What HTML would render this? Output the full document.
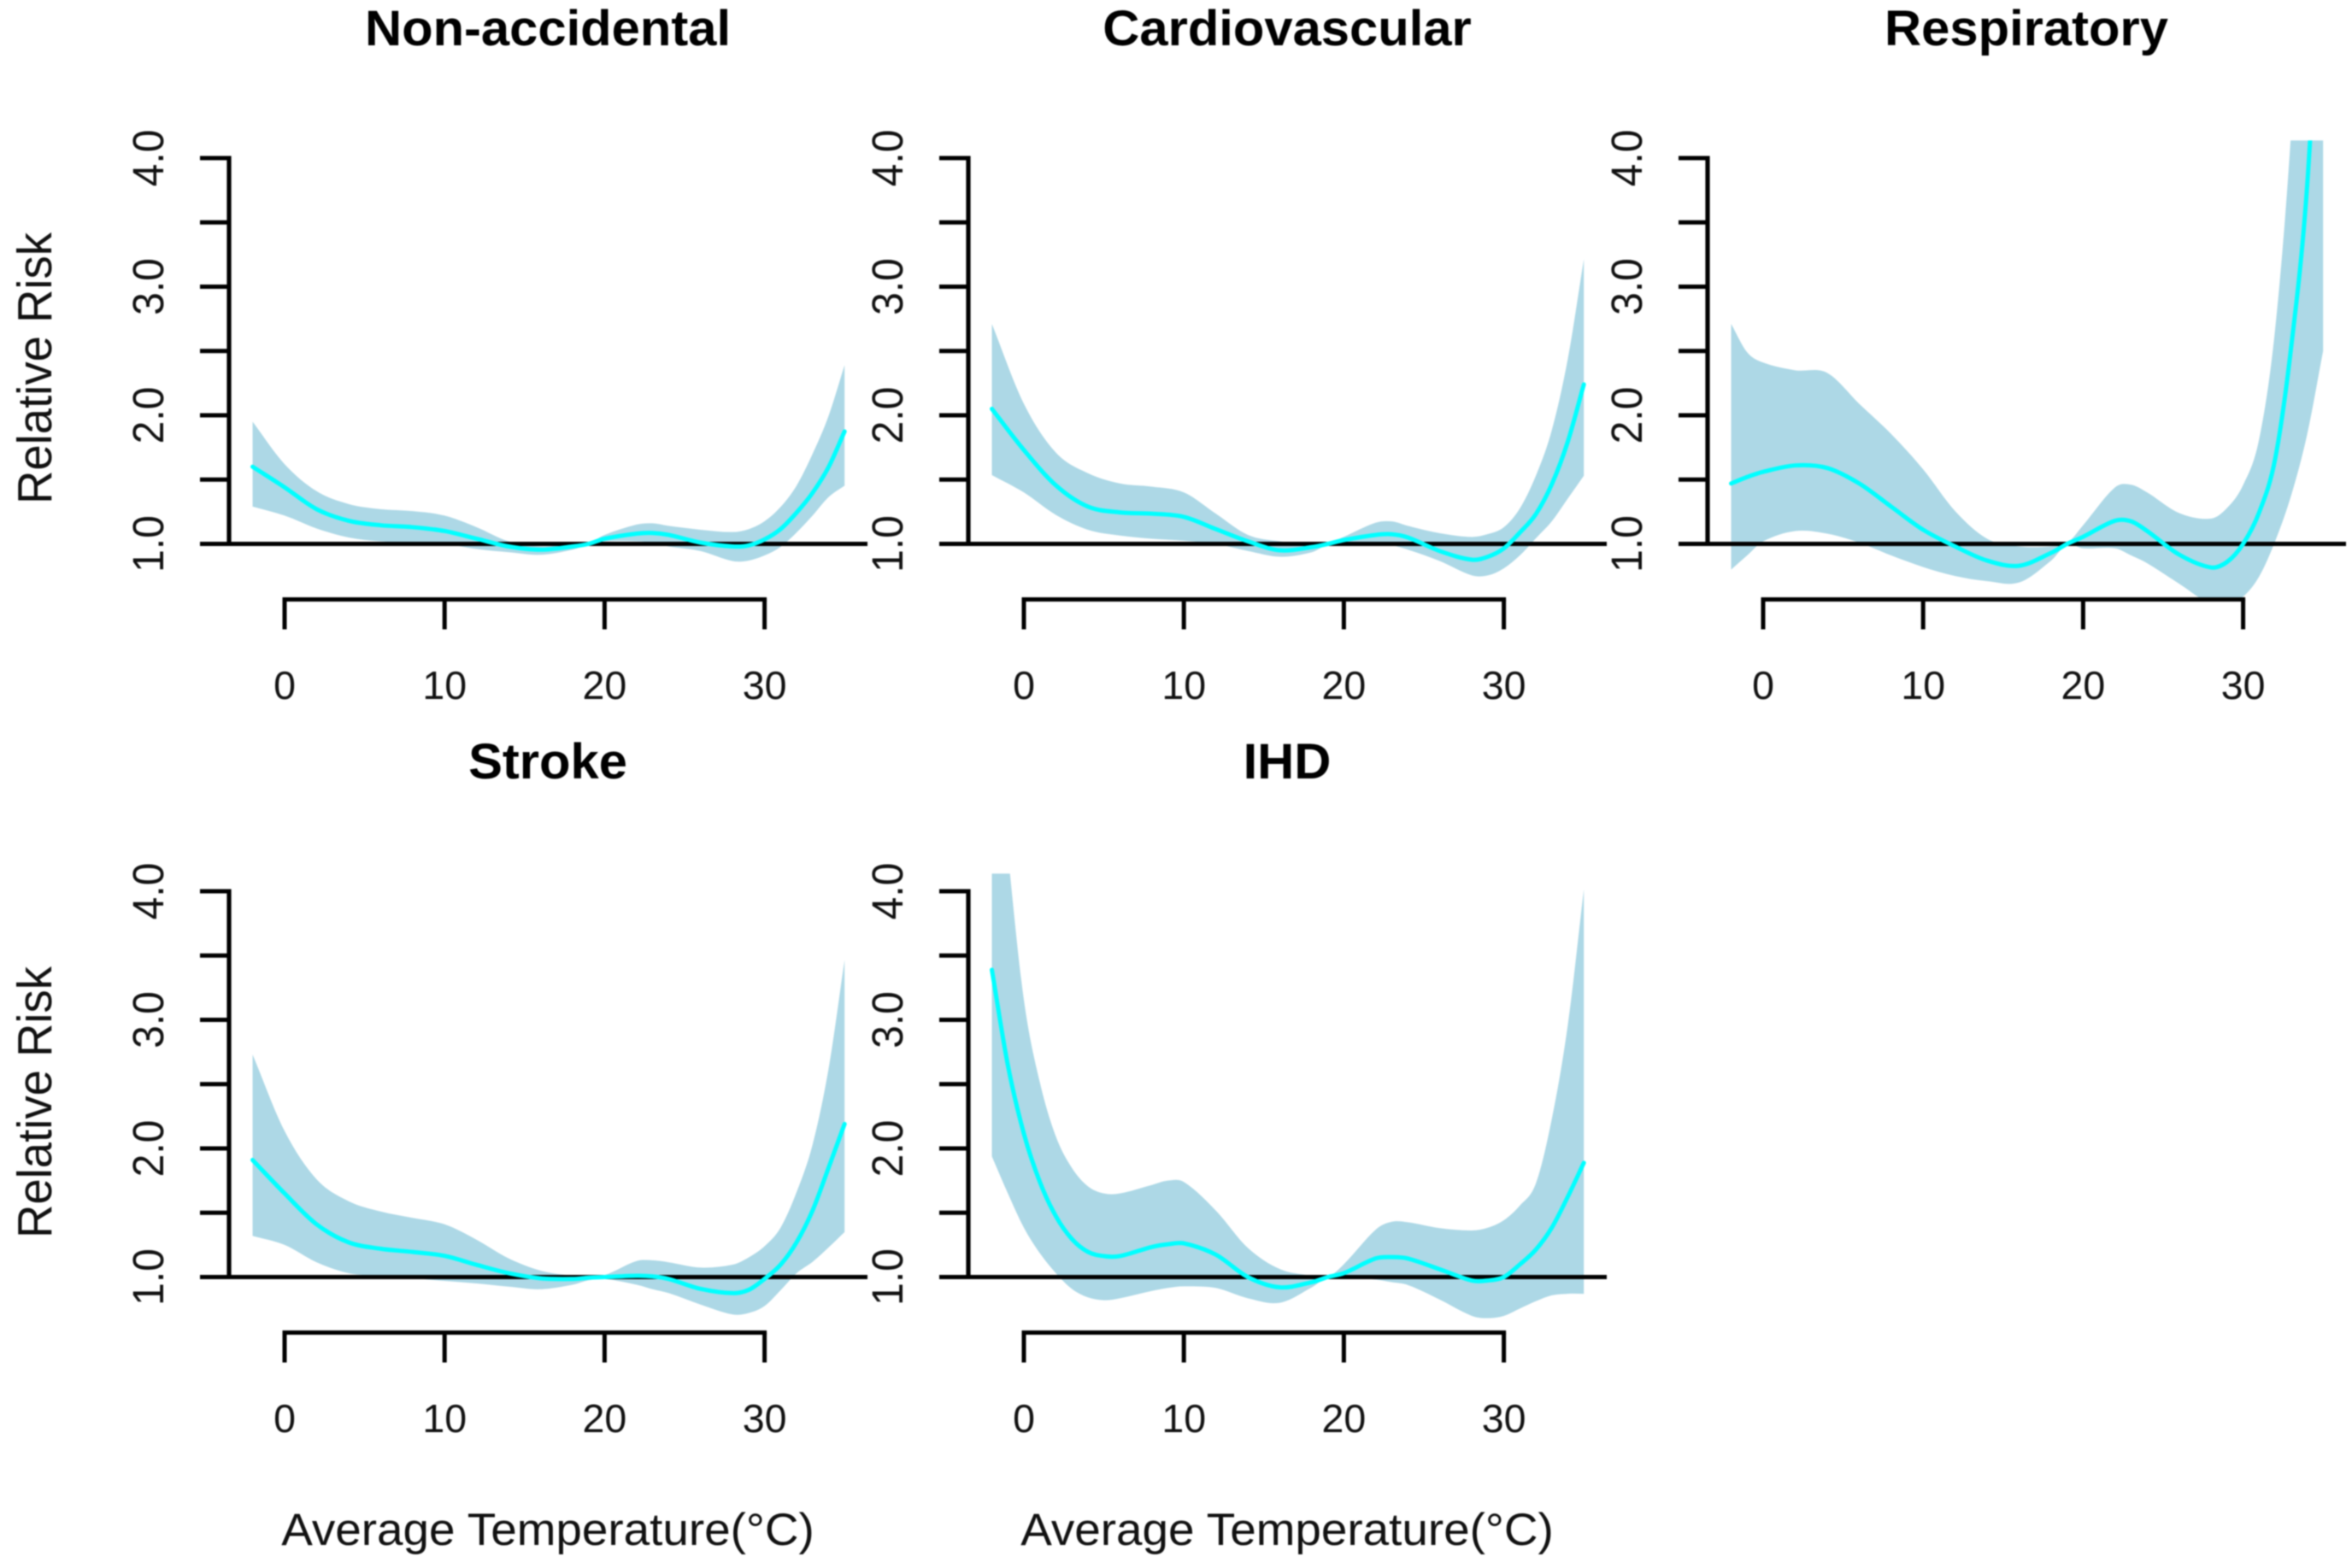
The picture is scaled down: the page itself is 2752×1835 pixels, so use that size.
<!DOCTYPE html>
<html lang="en">
<head>
<meta charset="utf-8">
<title>Relative risk by average temperature</title>
<style>
html,body{margin:0;padding:0;background:#fff;width:2752px;height:1835px;overflow:hidden}
svg{display:block;font-family:"Liberation Sans",Arial,sans-serif;filter:blur(0.7px)}
</style>
</head>
<body>
<svg id="chart" xmlns="http://www.w3.org/2000/svg" width="2752" height="1835" viewBox="0 0 2752 1835">
<rect x="0" y="0" width="2752" height="1835" fill="#ffffff"/>
<text transform="translate(641,53) scale(1.03,1)" text-anchor="middle" font-size="58" font-weight="bold" fill="#000">Non-accidental</text>
<text transform="translate(1506,53) scale(1.03,1)" text-anchor="middle" font-size="58" font-weight="bold" fill="#000">Cardiovascular</text>
<text transform="translate(2371,53) scale(1.03,1)" text-anchor="middle" font-size="58" font-weight="bold" fill="#000">Respiratory</text>
<text transform="translate(641,911) scale(1.03,1)" text-anchor="middle" font-size="58" font-weight="bold" fill="#000">Stroke</text>
<text transform="translate(1506,911) scale(1.03,1)" text-anchor="middle" font-size="58" font-weight="bold" fill="#000">IHD</text>
<text transform="translate(60,431) rotate(-90) scale(1,1.03)" text-anchor="middle" font-size="54.5" fill="#111">Relative Risk</text>
<text transform="translate(60,1290) rotate(-90) scale(1,1.03)" text-anchor="middle" font-size="54.5" fill="#111">Relative Risk</text>
<text transform="translate(641,1808) scale(1.035,1)" text-anchor="middle" font-size="53" fill="#111">Average Temperature(°C)</text>
<text transform="translate(1506,1808) scale(1.035,1)" text-anchor="middle" font-size="53" fill="#111">Average Temperature(°C)</text>
</svg>
<script>
const xTickValues = [0, 10, 20, 30];
const yTickValues = [1, 1.5, 2, 2.5, 3, 3.5, 4];
const yTickLabels = ["1.0", "", "2.0", "", "3.0", "", "4.0"];

const commonTemps = [-2,0,2,4,6,8,10,12,14,16,18,19,20,22,23,24,26,28,29,30,31,32,33,34,35];
const respiratoryTemps = [-2,-1,0,2,4,6,8,10,12,14,16,18,19,20,22,23,24,26,28,29,30,31,32,33,34,35];
const ihdTemps = [-2,-1,0,1,2,3,4,5,6,8,9,10,12,14,16,18,19,20,22,23,24,26,28,29,30,31,32,33,34,35];

const nonAccidentalMean = [1.60,1.44,1.27,1.18,1.145,1.13,1.10,1.04,0.98,0.955,0.98,1.0,1.04,1.08,1.085,1.07,1.01,0.98,0.988,1.035,1.115,1.243,1.397,1.597,1.874];
const nonAccidentalUpper = [1.95,1.62,1.41,1.31,1.27,1.255,1.22,1.13,1.02,0.98,1.0,1.005,1.07,1.15,1.16,1.14,1.11,1.092,1.114,1.176,1.287,1.453,1.70,1.995,2.39];
const nonAccidentalLower = [1.29,1.22,1.12,1.05,1.02,1.01,1.0,0.96,0.935,0.915,0.955,0.995,1.02,1.02,1.01,0.98,0.944,0.866,0.87,0.91,0.977,1.088,1.22,1.364,1.453];

const cardiovascularMean = [2.05,1.73,1.455,1.29,1.245,1.235,1.21,1.115,1.02,0.95,0.975,1.0,1.03,1.07,1.075,1.05,0.944,0.877,0.90,0.965,1.088,1.231,1.464,1.796,2.24];
const cardiovascularUpper = [2.71,2.09,1.71,1.55,1.47,1.445,1.40,1.235,1.07,1.02,1.0,1.005,1.055,1.165,1.175,1.14,1.083,1.054,1.076,1.13,1.276,1.53,1.885,2.44,3.214];
const cardiovascularLower = [1.535,1.40,1.225,1.11,1.065,1.04,1.025,1.0,0.945,0.90,0.935,0.995,1.0,1.01,0.99,0.955,0.866,0.755,0.755,0.81,0.91,1.043,1.176,1.353,1.53];

const respiratoryMean = [1.47,1.52,1.56,1.61,1.59,1.47,1.29,1.11,0.98,0.87,0.83,0.93,1.0,1.055,1.18,1.175,1.10,0.917,0.817,0.86,1.0,1.244,1.66,2.526,3.78,6.0];
const respiratoryUpper = [2.71,2.49,2.41,2.35,2.33,2.09,1.855,1.58,1.255,1.04,0.98,0.98,1.005,1.145,1.44,1.46,1.40,1.24,1.197,1.28,1.458,1.814,2.668,4.2,6.5,9.0];
const respiratoryLower = [0.80,0.91,1.02,1.10,1.08,1.01,0.91,0.82,0.75,0.71,0.70,0.87,0.995,0.965,0.965,0.91,0.85,0.69,0.53,0.53,0.59,0.746,1.02,1.375,1.85,2.5];

const strokeMean = [1.91,1.65,1.41,1.27,1.22,1.195,1.165,1.095,1.03,0.99,0.985,0.995,1.0,1.01,1.005,0.985,0.908,0.875,0.90,0.986,1.096,1.27,1.517,1.85,2.19];
const strokeUpper = [2.73,2.135,1.76,1.59,1.51,1.46,1.41,1.29,1.145,1.05,1.01,1.005,1.015,1.125,1.13,1.115,1.074,1.096,1.152,1.24,1.384,1.66,2.03,2.62,3.466];
const strokeLower = [1.32,1.25,1.115,1.03,1.01,0.99,0.97,0.95,0.925,0.905,0.94,0.975,0.985,0.94,0.905,0.875,0.786,0.709,0.72,0.775,0.897,1.03,1.118,1.23,1.35];

const ihdMean = [3.389,2.647,2.115,1.739,1.473,1.296,1.196,1.163,1.163,1.234,1.255,1.262,1.174,1.0,0.92,0.96,1.0,1.03,1.145,1.155,1.144,1.06,0.973,0.973,1.0,1.098,1.213,1.384,1.625,1.888];
const ihdUpper = [5.6,4.3,3.156,2.514,2.093,1.849,1.706,1.65,1.65,1.716,1.75,1.739,1.517,1.227,1.062,1.01,1.0,1.10,1.37,1.43,1.426,1.38,1.362,1.384,1.442,1.556,1.728,2.231,2.963,4.016];
const ihdLower = [1.938,1.65,1.384,1.185,1.03,0.908,0.842,0.82,0.835,0.892,0.915,0.928,0.915,0.835,0.80,0.92,1.0,1.0,0.98,0.96,0.938,0.824,0.698,0.68,0.698,0.755,0.812,0.858,0.87,0.87];

const svgNS = "http://www.w3.org/2000/svg";
const chart = document.getElementById("chart");
const defs = document.createElementNS(svgNS, "defs");
chart.appendChild(defs);

function shape(parent, tag, attrs) {
  const el = document.createElementNS(svgNS, tag);
  for (const k in attrs) el.setAttribute(k, attrs[k]);
  parent.appendChild(el);
  return el;
}

function smoothSegments(pts) {
  const n = pts.length;
  const slope = pts.map((p, i) => {
    const a = pts[Math.max(i - 1, 0)];
    const b = pts[Math.min(i + 1, n - 1)];
    return (b[1] - a[1]) / (b[0] - a[0]);
  });
  let d = "";
  for (let i = 0; i < n - 1; i++) {
    const dx = pts[i + 1][0] - pts[i][0];
    d += " C" + (pts[i][0] + dx / 3).toFixed(2) + " " + (pts[i][1] + slope[i] * dx / 3).toFixed(2) +
         " " + (pts[i + 1][0] - dx / 3).toFixed(2) + " " + (pts[i + 1][1] - slope[i + 1] * dx / 3).toFixed(2) +
         " " + pts[i + 1][0].toFixed(2) + " " + pts[i + 1][1].toFixed(2);
  }
  return d;
}

function drawPanel(key, shift, baseY, temps, mean, upper, lower) {
  const unitX = 18.72, unitY = 150.5;
  const axisX = 268 + shift, zeroX = 333 + shift;
  const xScale = t => zeroX + t * unitX;
  const yScale = v => baseY - (v - 1) * unitY;
  const axisBottom = baseY + 65;

  const g = shape(chart, "g", {});
  
  

  const clip = shape(defs, "clipPath", { id: "clip-" + key });
  shape(clip, "rect", { x: axisX - 40, y: yScale(4.137), width: 790, height: axisBottom + 1 - yScale(4.137) });

  const upperPts = temps.map((t, i) => [xScale(t), yScale(upper[i])]);
  const lowerPts = temps.map((t, i) => [xScale(t), yScale(lower[i])]).reverse();
  const meanPts = temps.map((t, i) => [xScale(t), yScale(mean[i])]);

  const band = shape(g, "path", {
    d: "M" + upperPts[0][0] + " " + upperPts[0][1] + smoothSegments(upperPts) +
       " L" + lowerPts[0][0] + " " + lowerPts[0][1] + smoothSegments(lowerPts) + " Z",
    fill: "#add8e6", "clip-path": "url(#clip-" + key + ")"
  });
  
  

  const ref = shape(g, "line", { x1: axisX - 33, x2: axisX + 747, y1: yScale(1), y2: yScale(1), stroke: "#000", "stroke-width": 5 });
  
  

  const curve = shape(g, "path", {
    d: "M" + meanPts[0][0] + " " + meanPts[0][1] + smoothSegments(meanPts),
    fill: "none", stroke: "#00ffff", "stroke-width": 5, "stroke-linecap": "round", "clip-path": "url(#clip-" + key + ")"
  });
  
  

  const yAxis = shape(g, "line", { x1: axisX, x2: axisX, y1: yScale(4) - 2.5, y2: yScale(1) + 2.5, stroke: "#000", "stroke-width": 5.2 });
  
  

  yTickValues.forEach((v, i) => {
    const tick = shape(g, "line", { x1: axisX - 34, x2: axisX, y1: yScale(v), y2: yScale(v), stroke: "#000", "stroke-width": 5 });
    
    
    if (yTickLabels[i]) {
      const label = shape(g, "text", {
        transform: "translate(" + (axisX - 77) + "," + yScale(v) + ") rotate(-90) scale(1,1.06)",
        "text-anchor": "middle", "font-size": 48, fill: "#111"
      });
      label.textContent = yTickLabels[i];
      
      
    }
  });

  const xAxis = shape(g, "line", {
    x1: xScale(xTickValues[0]) - 2.5, x2: xScale(xTickValues[xTickValues.length - 1]) + 2.5,
    y1: axisBottom, y2: axisBottom, stroke: "#000", "stroke-width": 5
  });
  
  

  xTickValues.forEach(v => {
    const tick = shape(g, "line", { x1: xScale(v), x2: xScale(v), y1: axisBottom, y2: axisBottom + 35, stroke: "#000", "stroke-width": 5 });
    
    
    const label = shape(g, "text", {
      x: xScale(v), y: baseY + 181.5,
      "text-anchor": "middle", "font-size": 46.5, fill: "#111"
    });
    label.textContent = String(v);
    
    
  });
}

drawPanel("non-accidental", 0, 636.5, commonTemps, nonAccidentalMean, nonAccidentalUpper, nonAccidentalLower);
drawPanel("cardiovascular", 865, 636.5, commonTemps, cardiovascularMean, cardiovascularUpper, cardiovascularLower);
drawPanel("respiratory", 1730, 636.5, respiratoryTemps, respiratoryMean, respiratoryUpper, respiratoryLower);
drawPanel("stroke", 0, 1494.5, commonTemps, strokeMean, strokeUpper, strokeLower);
drawPanel("ihd", 865, 1494.5, ihdTemps, ihdMean, ihdUpper, ihdLower);
</script>
</body>
</html>
